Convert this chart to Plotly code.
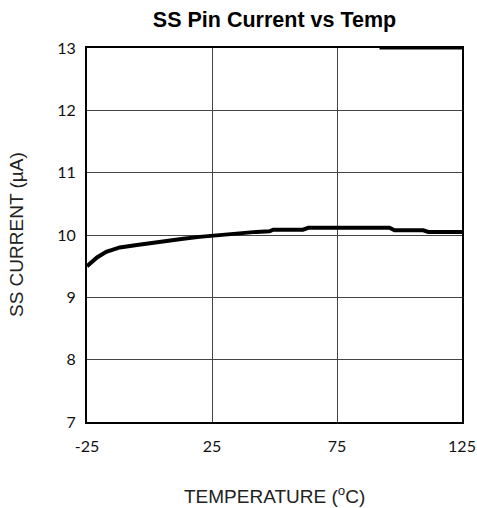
import plotly.graph_objects as go

temps = [-25, -21, -17.3, -11.9, -5, 0, 7, 13.5, 20, 25, 33, 42.7, 48, 49.5, 61.4, 63.5, 96, 98, 109.5, 111.5, 125]
current = [9.50, 9.64, 9.73, 9.80, 9.84, 9.87, 9.91, 9.94, 9.97, 9.99, 10.02, 10.05, 10.06, 10.085, 10.085, 10.115, 10.115, 10.075, 10.075, 10.05, 10.05]

x_ticks = [-25, 25, 75, 125]
x_tick_labels = ["-25", "25", "75", "125"]
y_ticks = [7, 8, 9, 10, 11, 12, 13]

fig = go.Figure()
fig.add_trace(go.Scatter(x=temps, y=current, mode="lines",
                         line=dict(color="black", width=4), showlegend=False,
                         cliponaxis=False))

fig.add_shape(type="line", x0=92, x1=125, y0=13, y1=13, xref="x", yref="y",
              line=dict(color="black", width=3), layer="above")

tickfont = dict(family="Lato, Liberation Sans, Arial", size=16, color="#111")
titlefont = dict(family="Liberation Sans, Arial", size=19, color="#222")
fig.update_xaxes(range=[-25, 125], tickvals=x_ticks, ticktext=x_tick_labels,
                 showgrid=True, gridcolor="#444", gridwidth=1,
                 showline=True, linecolor="black", linewidth=2, mirror=True, zeroline=False,
                 ticks="", ticklabelstandoff=9, tickfont=tickfont, automargin=False,
                 ticklabeloverflow="allow")
fig.update_yaxes(range=[7, 13], tickvals=y_ticks, showgrid=True, gridcolor="#444", gridwidth=1,
                 showline=True, linecolor="black", linewidth=2, mirror=True, zeroline=False,
                 ticks="", ticklabelstandoff=6, tickfont=tickfont, automargin=False,
                 ticklabeloverflow="allow")

fig.add_annotation(text="TEMPERATURE (<sup>o</sup>C)", xref="paper", yref="paper",
                   x=0.5, y=(422 - 495) / 374, xanchor="center", yanchor="middle",
                   showarrow=False, font=titlefont)
fig.add_annotation(text="SS CURRENT (µA)", xref="paper", yref="paper",
                   x=(16 - 87) / 375, y=0.5, xanchor="center", yanchor="middle",
                   textangle=-90, showarrow=False, font=titlefont)

fig.update_layout(
    width=477, height=508,
    margin=dict(l=87, r=15, t=48, b=86),
    paper_bgcolor="white", plot_bgcolor="white",
    title=dict(text="<b>SS Pin Current vs Temp</b>", x=0.5, xanchor="center",
               y=1 - 19 / 508, yanchor="middle", xref="paper",
               font=dict(family="Liberation Sans, Arial", size=21.5, color="black")),
)

fig.write_html("out.html", config={"displayModeBar": False},
               post_script="document.body.style.margin='0';document.body.style.overflow='hidden';")
